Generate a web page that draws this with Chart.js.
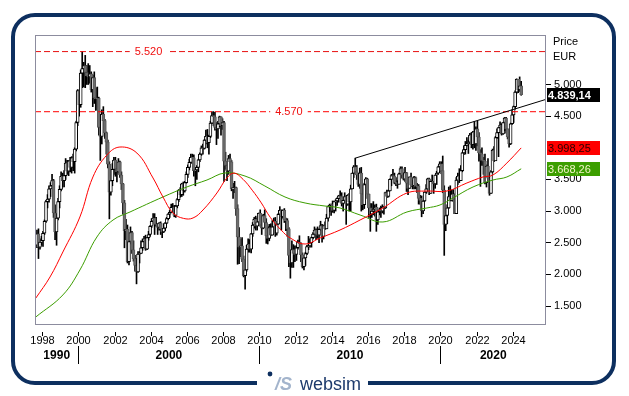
<!DOCTYPE html>
<html>
<head>
<meta charset="utf-8">
<script src="https://cdn.jsdelivr.net/npm/chart.js@4.4.1/dist/chart.umd.min.js"></script>
<style>
    html, body { margin: 0; padding: 0; background: #fff; }
    #wrap { width: 629px; height: 396px; }
</style>
</head>
<body>
<div id="wrap"><canvas id="myChart" width="629" height="396"></canvas></div>
<script>
// monthly candles, first one is Sep 1997, last one Jun 2024
let firstMonth = 1997 + 8 / 12
let firstOpen = 2460

let closes = [
    2640, 2430, 2510, 2532,
    2650, 2840, 3150, 3190, 3350, 3400, 3480, 2970, 2670, 2890, 3150, 3342,
    3550, 3480, 3560, 3760, 3630, 3790, 3690, 3840, 3780, 3980, 4400, 4904,
    4680, 5180, 5250, 5300, 5190, 5140, 5120, 5170, 4920, 5110, 4790, 4772,
    4780, 4320, 4180, 4530, 4430, 4240, 4090, 3740, 3300, 3480, 3660, 3806,
    3670, 3620, 3780, 3570, 3430, 3130, 2690, 2710, 2200, 2520, 2660, 2386,
    2250, 2140, 2040, 2320, 2330, 2420, 2520, 2560, 2400, 2580, 2630, 2761,
    2840, 2890, 2790, 2790, 2740, 2810, 2720, 2670, 2730, 2810, 2880, 2951,
    2980, 3060, 3060, 2930, 3080, 3180, 3330, 3260, 3430, 3320, 3450, 3579,
    3690, 3770, 3850, 3840, 3640, 3650, 3690, 3810, 3900, 4000, 3990, 4120,
    4180, 4080, 4180, 4390, 4510, 4490, 4320, 4300, 4380, 4490, 4350, 4400,
    3790, 3720, 3630, 3830, 3780, 3350, 3370, 3370, 3040, 2590, 2430, 2451,
    2240, 1980, 2070, 2400, 2480, 2400, 2640, 2780, 2870, 2760, 2830, 2966,
    2780, 2730, 2930, 2820, 2610, 2570, 2740, 2620, 2750, 2840, 2650, 2793,
    2950, 3010, 2910, 3010, 2860, 2850, 2720, 2300, 2180, 2390, 2330, 2317,
    2420, 2510, 2480, 2310, 2120, 2260, 2330, 2440, 2450, 2500, 2580, 2636,
    2700, 2630, 2620, 2710, 2770, 2600, 2770, 2720, 2890, 3070, 3090, 3109,
    3010, 3150, 3160, 3200, 3240, 3230, 3120, 3170, 3230, 3110, 3250, 3146,
    3350, 3600, 3700, 3620, 3570, 3420, 3600, 3270, 3100, 3420, 3510, 3268,
    3050, 2950, 3000, 3030, 3060, 2860, 2990, 3020, 3000, 3060, 3050, 3291,
    3230, 3320, 3500, 3560, 3550, 3440, 3450, 3420, 3590, 3670, 3570, 3504,
    3610, 3440, 3360, 3540, 3410, 3400, 3530, 3390, 3400, 3200, 3170, 3001,
    3160, 3300, 3350, 3510, 3280, 3470, 3470, 3430, 3570, 3600, 3700, 3745,
    3640, 3330, 2790, 2930, 3050, 3230, 3170, 3270, 3190, 2960, 3490, 3553,
    3480, 3640, 3920, 3970, 4040, 4060, 4090, 4200, 4050, 4250, 4060, 4298,
    4170, 3920, 3900, 3800, 3790, 3450, 3710, 3520, 3280, 3620, 3960, 3794,
    4160, 4240, 4320, 4360, 4220, 4400, 4470, 4300, 4170, 4060, 4380, 4521,
    4650, 4880, 5083, 4920, 4980, 4839.14
]

let highs = [
    2700, 2720, 2560, 2600,
    2680, 2860, 3170, 3260, 3400, 3450, 3580, 3500, 3100, 2950, 3200, 3400,
    3620, 3600, 3640, 3830, 3800, 3800, 3850, 3860, 3900, 4000, 4420, 4920,
    4910, 5230, 5522, 5350, 5460, 5300, 5330, 5300, 5200, 5150, 5200, 4950,
    4960, 4800, 4450, 4600, 4650, 4450, 4250, 4120, 3780, 3560, 3750, 3850,
    3850, 3700, 3830, 3790, 3620, 3440, 3170, 2870, 2780, 2620, 2750, 2680,
    2530, 2300, 2250, 2360, 2360, 2530, 2560, 2600, 2620, 2580, 2680, 2770,
    2880, 2960, 2960, 2900, 2800, 2820, 2830, 2720, 2800, 2820, 2900, 2960,
    3010, 3110, 3120, 3090, 3090, 3200, 3340, 3370, 3440, 3460, 3470, 3620,
    3730, 3820, 3900, 3900, 3890, 3680, 3720, 3820, 3920, 4030, 4060, 4130,
    4280, 4290, 4200, 4420, 4570, 4572, 4560, 4400, 4420, 4500, 4490, 4460,
    4420, 3930, 3780, 3880, 3900, 3800, 3440, 3470, 3380, 3100, 2740, 2560,
    2580, 2290, 2180, 2460, 2560, 2550, 2650, 2820, 2900, 2920, 2890, 2970,
    3020, 2800, 2950, 3020, 2880, 2760, 2790, 2800, 2850, 2890, 2900, 2830,
    2960, 3070, 3020, 3020, 3040, 2890, 2880, 2740, 2350, 2530, 2470, 2450,
    2450, 2540, 2610, 2500, 2340, 2270, 2350, 2460, 2600, 2560, 2590, 2660,
    2750, 2720, 2750, 2720, 2840, 2790, 2780, 2830, 2950, 3080, 3110, 3110,
    3160, 3160, 3180, 3210, 3250, 3320, 3290, 3180, 3290, 3240, 3260, 3280,
    3410, 3600, 3720, 3836, 3720, 3600, 3680, 3690, 3300, 3440, 3530, 3520,
    3270, 3120, 3120, 3150, 3100, 3110, 3010, 3050, 3080, 3100, 3070, 3300,
    3330, 3330, 3510, 3580, 3660, 3600, 3530, 3480, 3600, 3700, 3700, 3600,
    3690, 3610, 3490, 3540, 3600, 3490, 3550, 3540, 3440, 3420, 3250, 3240,
    3170, 3300, 3420, 3520, 3520, 3480, 3570, 3470, 3570, 3630, 3710, 3780,
    3780, 3870, 3400, 3000, 3100, 3380, 3400, 3330, 3340, 3270, 3530, 3600,
    3670, 3720, 3930, 4030, 4100, 4160, 4120, 4230, 4240, 4260, 4415, 4330,
    4420, 4240, 3970, 4000, 3850, 3900, 3730, 3830, 3600, 3640, 3980, 4020,
    4180, 4300, 4320, 4410, 4380, 4400, 4480, 4480, 4300, 4200, 4390, 4600,
    4660, 4900, 5090, 5050, 5120, 5050
]

let lows = [
    2420, 2250, 2400, 2460,
    2440, 2630, 2820, 3050, 3140, 3230, 3370, 2900, 2550, 2460, 2860, 3050,
    3320, 3380, 3380, 3500, 3580, 3560, 3620, 3600, 3640, 3600, 3950, 4350,
    4500, 4640, 4950, 4960, 4950, 5000, 5000, 5020, 4880, 4650, 4700, 4590,
    4600, 4200, 3800, 4060, 4400, 4150, 3900, 3680, 2877, 3250, 3400, 3580,
    3550, 3460, 3600, 3530, 3340, 2950, 2420, 2550, 2180, 2150, 2480, 2330,
    2210, 2050, 1850, 2030, 2180, 2330, 2380, 2470, 2380, 2390, 2540, 2600,
    2740, 2800, 2630, 2760, 2630, 2700, 2630, 2580, 2660, 2690, 2800, 2860,
    2900, 2980, 2990, 2910, 2900, 3050, 3150, 3220, 3230, 3250, 3300, 3440,
    3530, 3650, 3750, 3760, 3550, 3400, 3500, 3620, 3780, 3880, 3900, 3980,
    4060, 4000, 3900, 4160, 4380, 4350, 4280, 4050, 4150, 4330, 4200, 4290,
    3470, 3660, 3480, 3580, 3730, 3320, 3200, 3290, 2930, 2160, 2170, 2280,
    2200, 1960, 1765, 2050, 2350, 2350, 2340, 2600, 2730, 2700, 2700, 2800,
    2760, 2630, 2720, 2780, 2490, 2480, 2530, 2610, 2620, 2740, 2600, 2620,
    2790, 2930, 2700, 2890, 2820, 2690, 2600, 2120, 1940, 2110, 2110, 2200,
    2220, 2400, 2440, 2200, 2100, 2070, 2140, 2310, 2390, 2430, 2430, 2560,
    2630, 2550, 2570, 2500, 2690, 2510, 2560, 2710, 2720, 2840, 2990, 2930,
    2980, 2970, 3000, 3090, 3140, 3200, 3080, 3000, 3140, 2790, 3090, 3000,
    3000, 3350, 3530, 3600, 3500, 3390, 3360, 3000, 3020, 3040, 3360, 3200,
    2900, 2680, 2900, 2940, 2920, 2680, 2790, 2940, 2900, 2970, 2950, 3040,
    3210, 3220, 3320, 3400, 3520, 3430, 3400, 3360, 3430, 3580, 3520, 3490,
    3470, 3310, 3260, 3360, 3390, 3350, 3350, 3350, 3290, 3110, 3110, 2910,
    2960, 3150, 3280, 3350, 3260, 3280, 3440, 3280, 3360, 3420, 3580, 3630,
    3590, 3290, 2300, 2690, 2800, 3040, 3160, 3160, 3150, 2960, 2960, 3420,
    3450, 3480, 3620, 3890, 3900, 4030, 3910, 4080, 4000, 3980, 4000, 3960,
    4030, 3790, 3390, 3720, 3580, 3430, 3380, 3520, 3250, 3280, 3600, 3780,
    3810, 4150, 3860, 4250, 4200, 4210, 4270, 4230, 4140, 4010, 4050, 4370,
    4400, 4610, 4860, 4870, 4890, 4830
]

// moving averages as [year, value]
let redAvg = [
    [1997.65, 1627], [1998.43, 1959], [1999.14, 2354], [2000.08, 2907], [2000.8, 3539],
    [2001.57, 3886], [2002.29, 4012], [2003.23, 3917], [2004.12, 3523], [2004.67, 3223],
    [2005.22, 2970], [2005.8, 2885], [2006.33, 2891], [2006.88, 3017], [2007.65, 3286],
    [2008.2, 3523], [2008.6, 3600], [2009.1, 3500], [2009.6, 3330], [2010.1, 3130],
    [2010.6, 2900], [2011.2, 2700], [2011.7, 2575], [2012.52, 2480], [2013.35, 2575],
    [2014.45, 2701], [2015.56, 2859], [2016.82, 3049], [2018.15, 3286], [2019.25, 3317],
    [2020.36, 3317], [2021.46, 3444], [2022.35, 3539], [2022.9, 3570], [2023.67, 3760],
    [2024.46, 3998.25]
]
let greenAvg = [
    [1997.65, 1328], [1999.14, 1675], [2000.08, 2069], [2001.02, 2591], [2001.91, 2859],
    [2002.85, 2986], [2004.67, 3223], [2005.99, 3381], [2007.1, 3491], [2008.09, 3602],
    [2009.2, 3554], [2010.3, 3396], [2011.41, 3223], [2012.52, 3128], [2013.62, 3080],
    [2014.45, 3049], [2015.56, 2938], [2016.82, 2828], [2018.15, 2986], [2019.25, 3049],
    [2019.97, 3096], [2020.69, 3207], [2021.8, 3381], [2022.9, 3491], [2023.67, 3539],
    [2024.46, 3668.26]
]

let levels = [5520, 4570]
let levelLabelAt = [2003.87, 2011.63]
let trendLine = [[2015.29, 3836], [2025.83, 4765]]
let priceTicks = [1500, 2000, 2500, 3000, 3500, 4500, 5000]
let yearTicks = [1998, 2000, 2002, 2004, 2006, 2008, 2010, 2012, 2014, 2016, 2018, 2020, 2022, 2024]
let decadeLabels = ["1990", "2000", "2010", "2020"]
let decadeStarts = [2000, 2010, 2020]

let xMin = 1997.6
let xMax = 2025.83
let font = "'Liberation Sans', Arial, sans-serif"

function fmt(v, d) {
    let parts = v.toFixed(d).split(".")
    let whole = parts[0].replace(/\B(?=(\d{3})+(?!\d))/g, ".")
    return d ? whole + "," + parts[1] : whole
}

let candles = closes.map(function (c, i) {
    let o = i == 0 ? firstOpen : closes[i - 1]
    return { x: firstMonth + (i + 0.5) / 12, o: o, c: c, h: highs[i], l: lows[i] }
})

let bodyFill = candles.map(k => (k.c >= k.o ? "#ffffff" : "#6e6e6e"))
let bodyLine = candles.map(k => (k.c >= k.o ? "#000000" : "#5a5a5a"))

const decor = {
    id: "decor",
    beforeDraw(chart) {
        let c = chart.ctx
        c.save()
        c.fillStyle = "#fff"
        c.fillRect(0, 0, chart.width, chart.height)
        c.restore()
    },
    afterDatasetsDraw(chart) {
        let c = chart.ctx
        let xs = chart.scales.x
        let ys = chart.scales.y
        c.save()
        c.font = "11px " + font
        c.textAlign = "center"
        c.textBaseline = "middle"
        levels.forEach(function (lv, i) {
            let px = xs.getPixelForValue(levelLabelAt[i])
            let py = ys.getPixelForValue(lv)
            let txt = fmt(lv, 0)
            let w = c.measureText(txt).width
            c.fillStyle = "#fff"
            c.fillRect(px - w / 2 - 5, py - 3, w + 10, 6)
            c.fillStyle = "#f01010"
            c.fillText(txt, px, py + 0.5)
        })
        c.restore()
    },
    afterDraw(chart) {
        let c = chart.ctx
        let a = chart.chartArea
        let xs = chart.scales.x
        let ys = chart.scales.y
        c.save()

        // plot frame
        c.strokeStyle = "#8c8c9e"
        c.lineWidth = 1
        c.strokeRect(a.left + 0.5, a.top + 0.5, a.right - a.left - 1, a.bottom - a.top)

        // header of price axis
        c.fillStyle = "#000"
        c.font = "11px " + font
        c.textAlign = "left"
        c.textBaseline = "middle"
        c.fillText("Price", a.right + 7, 42)
        c.fillText("EUR", a.right + 7, 57)

        // value boxes
        let boxes = [
            [closes[closes.length - 1], "#000000", "#ffffff", "bold "],
            [redAvg[redAvg.length - 1][1], "#ff0000", "#2a0000", ""],
            [greenAvg[greenAvg.length - 1][1], "#3c9e00", "#f4f4c8", ""],
        ]
        boxes.forEach(function (b) {
            let py = Math.round(ys.getPixelForValue(b[0]))
            c.fillStyle = b[1]
            c.fillRect(a.right + 1, py - 7, 53, 14)
            c.fillStyle = b[2]
            c.font = b[3] + "11px " + font
            c.fillText(fmt(b[0], 2), a.right + 2, py + 0.5)
        })

        // year axis
        c.font = "11px " + font
        c.textAlign = "center"
        c.strokeStyle = "#000"
        yearTicks.forEach(function (yr) {
            let px = Math.round(xs.getPixelForValue(yr)) + 0.5
            c.beginPath()
            c.moveTo(px, a.bottom + 8)
            c.lineTo(px, a.bottom + 12)
            c.stroke()
            c.fillStyle = "#000"
            c.fillText(String(yr), px, a.bottom + 17)
        })

        // decades
        let edges = [a.left].concat(decadeStarts.map(d => xs.getPixelForValue(d)), [a.right])
        c.font = "bold 12px " + font
        decadeLabels.forEach(function (lab, i) {
            c.fillText(lab, (edges[i] + edges[i + 1]) / 2, a.bottom + 32)
        })
        decadeStarts.forEach(function (d) {
            let px = Math.round(xs.getPixelForValue(d)) + 0.5
            c.beginPath()
            c.moveTo(px, a.bottom + 22)
            c.lineTo(px, a.bottom + 40)
            c.stroke()
        })

        // outer rounded frame, open at the bottom for the logo
        let L = 13, T = 15, R = 614, B = 383, r = 22
        c.strokeStyle = "#0d2f5f"
        c.lineWidth = 4
        c.beginPath()
        c.moveTo(368, B)
        c.lineTo(R - r, B)
        c.arcTo(R, B, R, B - r, r)
        c.lineTo(R, T + r)
        c.arcTo(R, T, R - r, T, r)
        c.lineTo(L + r, T)
        c.arcTo(L, T, L, T + r, r)
        c.lineTo(L, B - r)
        c.arcTo(L, B, L + r, B, r)
        c.lineTo(257, B)
        c.stroke()

        // logo
        c.fillStyle = "#0d2f5f"
        c.beginPath()
        c.arc(270, 374, 2.4, 0, Math.PI * 2)
        c.fill()
        c.fillStyle = "#a3b4cc"
        c.font = "italic bold 18px " + font
        c.textAlign = "left"
        c.textBaseline = "alphabetic"
        c.fillText("/S", 275, 390)
        c.fillStyle = "#1d3a6c"
        c.font = "18px " + font
        c.fillText("websim", 300, 390)

        c.restore()
    },
}

const ctx = document.getElementById("myChart").getContext("2d")
let myChart = new Chart(ctx, {
    type: "bar",
    data: {
        datasets: [
            {
                label: "range",
                data: candles.map(k => ({ x: k.x, y: [k.l, k.h] })),
                backgroundColor: "#000",
                borderWidth: 0,
                barThickness: 1,
                grouped: false,
                order: 4,
            },
            {
                label: "body",
                data: candles.map(k => ({ x: k.x, y: [k.o, k.c] })),
                backgroundColor: bodyFill,
                borderColor: bodyLine,
                borderWidth: 1,
                borderSkipped: false,
                barThickness: 3,
                grouped: false,
                order: 3,
            },
            {
                type: "line",
                label: "avg long",
                data: greenAvg.map(p => ({ x: p[0], y: p[1] })),
                borderColor: "#3c9e00",
                borderWidth: 1,
                pointRadius: 0,
                tension: 0.4,
                order: 2,
            },
            {
                type: "line",
                label: "avg short",
                data: redAvg.map(p => ({ x: p[0], y: p[1] })),
                borderColor: "#ff0000",
                borderWidth: 1,
                pointRadius: 0,
                tension: 0.4,
                order: 1,
            },
            {
                type: "line",
                label: "trend",
                data: trendLine.map(p => ({ x: p[0], y: p[1] })),
                borderColor: "#000",
                borderWidth: 1,
                pointRadius: 0,
                order: 0,
            },
            {
                type: "line",
                label: "top",
                data: [{ x: xMin, y: levels[0] }, { x: xMax, y: levels[0] }],
                borderColor: "#e81010",
                borderWidth: 1,
                borderDash: [6, 3],
                pointRadius: 0,
                order: 0,
            },
            {
                type: "line",
                label: "level",
                data: [{ x: xMin, y: levels[1] }, { x: xMax, y: levels[1] }],
                borderColor: "#ff0000",
                borderWidth: 1,
                borderDash: [6, 3],
                pointRadius: 0,
                order: 0,
            },
        ],
    },
    options: {
        responsive: false,
        animation: false,
        devicePixelRatio: 1,
        layout: { padding: { left: 35, top: 35, right: 0, bottom: 72 } },
        plugins: { legend: { display: false }, tooltip: { enabled: false } },
        scales: {
            x: {
                type: "linear",
                min: xMin,
                max: xMax,
                bounds: "data",
                offset: false,
                display: false,
            },
            y: {
                position: "right",
                min: 1216,
                max: 5782,
                afterFit: function (scale) {
                    scale.width = 83
                },
                afterBuildTicks: function (scale) {
                    scale.ticks = priceTicks.map(v => ({ value: v }))
                },
                border: { display: false },
                grid: {
                    drawOnChartArea: false,
                    tickLength: 5,
                    tickColor: "#000",
                },
                ticks: {
                    padding: 3,
                    color: "#000",
                    font: { size: 11, family: font },
                    callback: function (v) {
                        return fmt(v, 0)
                    },
                },
            },
        },
    },
    plugins: [decor],
})
</script>
</body>
</html>
